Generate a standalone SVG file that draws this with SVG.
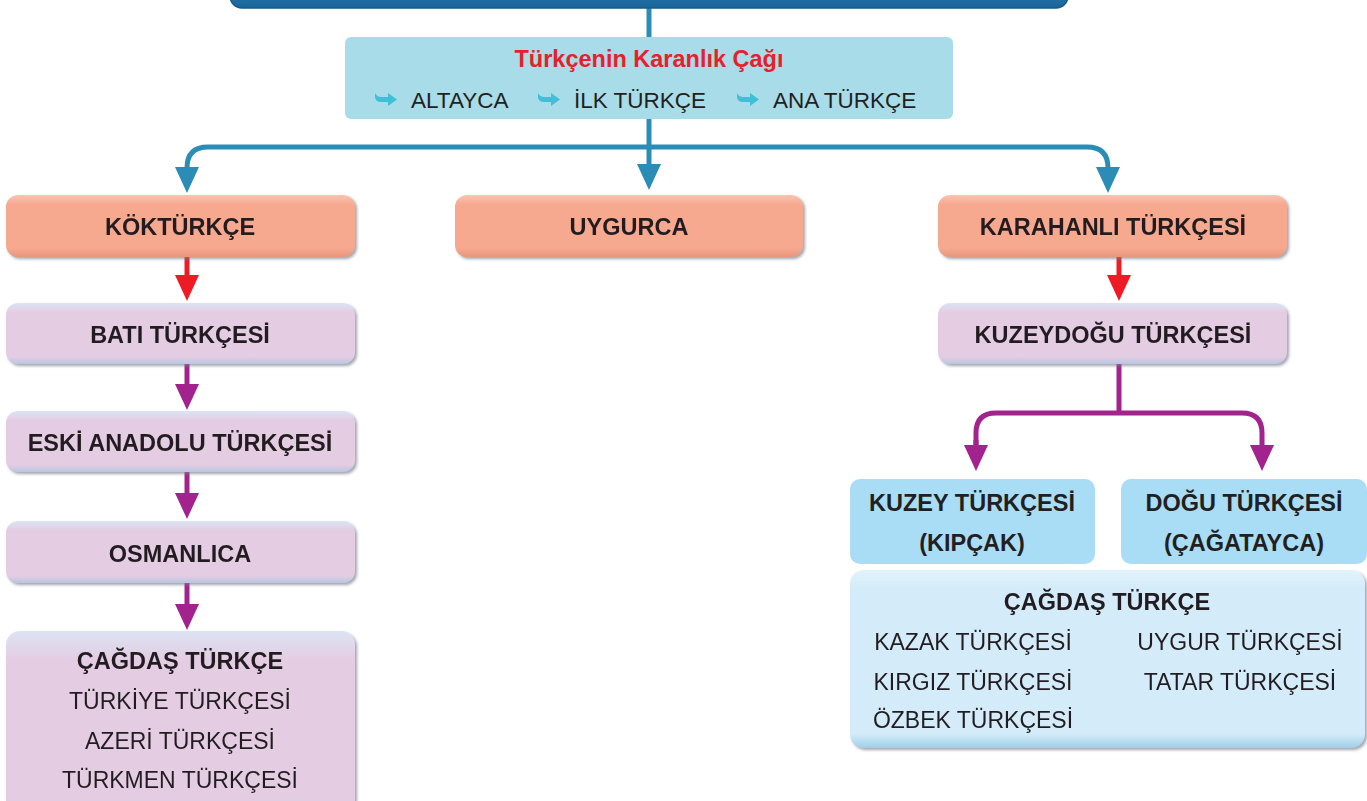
<svg xmlns="http://www.w3.org/2000/svg" width="1367" height="801" viewBox="0 0 1367 801">
<style>
.b{font-family:"Liberation Sans",Arial,sans-serif;font-weight:bold;font-size:23.5px;fill:#231f20;text-anchor:middle}
.n{font-family:"Liberation Sans",Arial,sans-serif;font-size:23px;fill:#231f20;text-anchor:middle}
.t{fill:none;stroke:#2b8db5;stroke-width:5}
.r{fill:none;stroke:#ed1c24;stroke-width:5}
.p{fill:none;stroke:#a2228e;stroke-width:5}
.hook{fill:#3dc0d8}
</style>
<defs>
<linearGradient id="gTop" x1="0" y1="0" x2="0" y2="1"><stop offset="0" stop-color="#2a93c8"/><stop offset="1" stop-color="#1a6498"/></linearGradient>
<linearGradient id="gSal" x1="0" y1="0" x2="0" y2="1"><stop offset="0" stop-color="#fbc3b3"/><stop offset="0.15" stop-color="#f7a98f"/><stop offset="0.85" stop-color="#f7a98f"/><stop offset="1" stop-color="#e8967c"/></linearGradient>
<linearGradient id="gLav" x1="0" y1="0" x2="0" y2="1"><stop offset="0" stop-color="#dce4f4"/><stop offset="0.15" stop-color="#e4cde3"/><stop offset="0.88" stop-color="#e4cde3"/><stop offset="1" stop-color="#b9c6e2"/></linearGradient>
<linearGradient id="gLb" x1="0" y1="0" x2="0" y2="1"><stop offset="0" stop-color="#e2f3fb"/><stop offset="0.1" stop-color="#d4ecf9"/><stop offset="0.92" stop-color="#d4ecf9"/><stop offset="1" stop-color="#9fcfe8"/></linearGradient>
<filter id="sh" x="-5%" y="-10%" width="110%" height="130%"><feDropShadow dx="2" dy="2" stdDeviation="1.5" flood-color="#7a7f8a" flood-opacity="0.7"/></filter>
<marker id="mt" viewBox="0 0 26 24" refX="14" refY="12" markerWidth="26" markerHeight="24" markerUnits="userSpaceOnUse" orient="auto"><path d="M0,0 L26,12 L0,24 z" fill="#2b8db5"/></marker>
<marker id="mr" viewBox="0 0 26 24" refX="14" refY="12" markerWidth="26" markerHeight="24" markerUnits="userSpaceOnUse" orient="auto"><path d="M0,0 L26,12 L0,24 z" fill="#ed1c24"/></marker>
<marker id="mp" viewBox="0 0 26 24" refX="14" refY="12" markerWidth="26" markerHeight="24" markerUnits="userSpaceOnUse" orient="auto"><path d="M0,0 L26,12 L0,24 z" fill="#a2228e"/></marker>
<path id="hk" d="M0,-6.5 Q2,-2.5 6,-2.5 L13,-2.5 L13,-6.5 L22,0 L13,6.5 L13,2.5 L6,2.5 Q1,2.5 0,-2 z"/>
</defs>

<g id="connectors">
<path class="t" d="M649,8 V38"/>
<path class="t" d="M649,119 V178" marker-end="url(#mt)"/>
<path class="t" d="M187,181 V168 Q187,147 208,147 H1087 Q1108,147 1108,168 V181" marker-end="url(#mt)"/>
<path class="t" d="M187,168 V181" marker-end="url(#mt)"/>
<path class="r" d="M187,257 V289" marker-end="url(#mr)"/>
<path class="r" d="M1119,257 V289" marker-end="url(#mr)"/>
<path class="p" d="M187,364 V398" marker-end="url(#mp)"/>
<path class="p" d="M187,472 V507" marker-end="url(#mp)"/>
<path class="p" d="M187,583 V618" marker-end="url(#mp)"/>
<path class="p" d="M1119,364 V413"/>
<path class="p" d="M976,459 V433 Q976,413 996,413 H1242 Q1262,413 1262,433 V459" marker-end="url(#mp)"/>
<path class="p" d="M976,440 V459" marker-end="url(#mp)"/>
</g>

<g id="top-bar">
<rect x="230" y="-30" width="838" height="38" rx="12" fill="url(#gTop)" stroke="#175a8a" stroke-width="1.5"/>
</g>

<g id="karanlik-cag">
<rect x="345" y="37" width="608" height="82" rx="6" fill="#a8dce8"/>
<text x="649" y="67" font-family="Liberation Sans, Arial, sans-serif" font-weight="bold" font-size="23.5" fill="#e8202a" text-anchor="middle">Türkçenin Karanlık Çağı</text>
<use href="#hk" class="hook" x="375" y="99.5"/>
<text x="411" y="108" font-family="Liberation Sans, Arial, sans-serif" font-size="22.5" fill="#231f20">ALTAYCA</text>
<use href="#hk" class="hook" x="538" y="99.5"/>
<text x="574" y="108" font-family="Liberation Sans, Arial, sans-serif" font-size="22.5" fill="#231f20">İLK TÜRKÇE</text>
<use href="#hk" class="hook" x="737" y="99.5"/>
<text x="773" y="108" font-family="Liberation Sans, Arial, sans-serif" font-size="22.5" fill="#231f20">ANA TÜRKÇE</text>
</g>

<g id="kokturkce" filter="url(#sh)">
<rect x="6" y="195" width="349" height="62" rx="12" fill="url(#gSal)"/>
<text class="b" x="180" y="235">KÖKTÜRKÇE</text>
</g>
<g id="uygurca" filter="url(#sh)">
<rect x="455" y="195" width="348" height="62" rx="12" fill="url(#gSal)"/>
<text class="b" x="629" y="235">UYGURCA</text>
</g>
<g id="karahanli" filter="url(#sh)">
<rect x="938" y="195" width="349" height="62" rx="12" fill="url(#gSal)"/>
<text class="b" x="1113" y="235">KARAHANLI TÜRKÇESİ</text>
</g>

<g id="bati" filter="url(#sh)">
<rect x="6" y="303" width="349" height="61" rx="12" fill="url(#gLav)"/>
<text class="b" x="180" y="343">BATI TÜRKÇESİ</text>
</g>
<g id="eski-anadolu" filter="url(#sh)">
<rect x="6" y="411" width="349" height="61" rx="12" fill="url(#gLav)"/>
<text class="b" x="180" y="451">ESKİ ANADOLU TÜRKÇESİ</text>
</g>
<g id="osmanlica" filter="url(#sh)">
<rect x="6" y="521" width="349" height="62" rx="12" fill="url(#gLav)"/>
<text class="b" x="180" y="562">OSMANLICA</text>
</g>
<g id="cagdas-bati" filter="url(#sh)">
<rect x="6" y="631" width="349" height="190" rx="14" fill="url(#gLav)"/>
<text class="b" x="180" y="669">ÇAĞDAŞ TÜRKÇE</text>
<text class="n" x="180" y="709">TÜRKİYE TÜRKÇESİ</text>
<text class="n" x="180" y="749">AZERİ TÜRKÇESİ</text>
<text class="n" x="180" y="788">TÜRKMEN TÜRKÇESİ</text>
</g>

<g id="kuzeydogu" filter="url(#sh)">
<rect x="938" y="303" width="349" height="61" rx="12" fill="url(#gLav)"/>
<text class="b" x="1113" y="343">KUZEYDOĞU TÜRKÇESİ</text>
</g>

<g id="kuzey">
<rect x="850" y="479" width="245" height="85" rx="10" fill="#a9ddf6"/>
<text class="b" x="972" y="511" font-size="22">KUZEY TÜRKÇESİ</text>
<text class="b" x="972" y="551" font-size="22">(KIPÇAK)</text>
</g>
<g id="dogu">
<rect x="1121" y="479" width="246" height="85" rx="10" fill="#a9ddf6"/>
<text class="b" x="1244" y="511" font-size="22">DOĞU TÜRKÇESİ</text>
<text class="b" x="1244" y="551" font-size="22">(ÇAĞATAYCA)</text>
</g>

<g id="cagdas-dogu" filter="url(#sh)">
<rect x="850" y="570" width="515" height="178" rx="14" fill="url(#gLb)"/>
<text class="b" x="1107" y="610">ÇAĞDAŞ TÜRKÇE</text>
<text class="n" x="973" y="650">KAZAK TÜRKÇESİ</text>
<text class="n" x="973" y="690">KIRGIZ TÜRKÇESİ</text>
<text class="n" x="973" y="728">ÖZBEK TÜRKÇESİ</text>
<text class="n" x="1240" y="650">UYGUR TÜRKÇESİ</text>
<text class="n" x="1240" y="690">TATAR TÜRKÇESİ</text>
</g>
</svg>
